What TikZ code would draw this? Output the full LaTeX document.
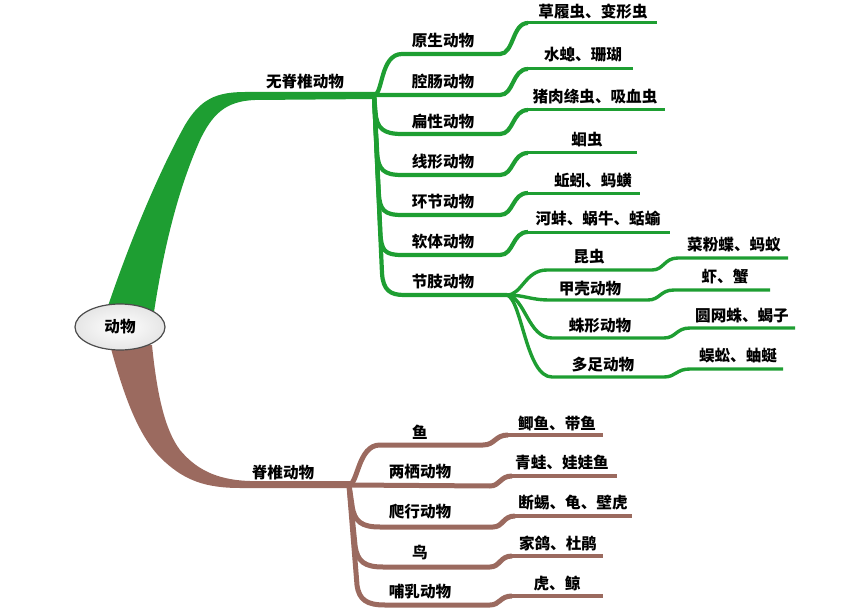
\documentclass[tikz,border=0pt]{standalone}
\usepackage{fontspec}
\setmainfont{Noto Sans CJK SC}
\usetikzlibrary{shapes.geometric}
\definecolor{tg}{HTML}{1E9E32}
\definecolor{tb}{HTML}{9B6A5F}
\tikzset{
  lbl/.style={font=\fontsize{15.6}{17}\selectfont\bfseries, inner sep=0pt, text=black},
  gcat/.style={draw=tg, line width=4.2pt},
  gleaf/.style={draw=tg, line width=3pt},
  gsub/.style={draw=tg, line width=3.4pt},
  bcat/.style={draw=tb, line width=5pt},
  bleaf/.style={draw=tb, line width=4pt}
}
\begin{document}
\begin{tikzpicture}[x=1pt,y=-1pt]
\useasboundingbox (0,0) rectangle (857,615);

% trunks
\fill[tg] (106,312) .. controls (130,240) and (160,170) .. (185,125) .. controls (200,100) and (215,92) .. (245,92) -- (376,92) -- (376,99) -- (255,100) .. controls (225,101) and (212,115) .. (200,140) .. controls (180,185) and (165,240) .. (154,312) -- cycle;
\fill[tb] (110,345) .. controls (125,400) and (140,440) .. (165,462) .. controls (185,480) and (205,488) .. (240,488) -- (351,488) -- (351,481) -- (250,481) .. controls (215,480) and (195,468) .. (180,450) .. controls (165,430) and (157,395) .. (152,345) -- cycle;

\node[ellipse, draw=black!70, line width=1.2pt, minimum width=90pt, minimum height=46pt, shading=radial, inner color=white, outer color=black!10, lbl] (root) at (120,327) {动物};

\node[lbl] (inv) at (305,82) {无脊椎动物};
\node[lbl] (ver) at (283,473) {脊椎动物};

\coordinate (P) at (374,95);
\coordinate (Q) at (507,295);
\coordinate (R) at (349,485);

% invertebrate categories
\draw[gcat] (P) .. controls (383,95) and (380,54) .. (402,54) -- (500,54) .. controls (514,54) and (512,23) .. (528,23);
\draw[gleaf] (526,23) -- (657,23);
\draw[gcat] (P) -- (500,95) .. controls (514,95) and (512,69) .. (528,69);
\draw[gleaf] (526,69) -- (633,69);
\foreach \y/\yl/\xe in {134/110/665, 175/153/637, 215/193/640, 255/232/670}{
  \pgfmathsetmacro{\off}{(\y-95)/25}
  \draw[gcat] (P) -- (374+\off,\y-22) .. controls (375+\off,\y-5) and (384,\y) .. (402,\y) -- (500,\y) .. controls (514,\y) and (512,\yl) .. (528,\yl);
  \draw[gleaf] (526,\yl) -- (\xe,\yl);
}
\draw[gcat] (P) -- (382,273) .. controls (383,290) and (390,295) .. (404,295) -- (Q);

% arthropod sub-branches
\draw[gsub] (Q) .. controls (522,295) and (525,270) .. (547,270) -- (652,270) .. controls (664,270) and (664,258) .. (678,258) -- (788,258);
\draw[gsub] (Q) .. controls (525,295) and (530,300) .. (550,300) -- (648,300) .. controls (660,300) and (660,290) .. (674,290) -- (770,290);
\draw[gsub] (Q) .. controls (525,297) and (528,338) .. (552,338) -- (664,338) .. controls (676,338) and (676,328) .. (690,328) -- (795,328);
\draw[gsub] (Q) .. controls (522,300) and (526,377) .. (552,377) -- (664,377) .. controls (676,377) and (676,369) .. (690,369) -- (783,369);

% vertebrate categories
\draw[bcat] (R) .. controls (358,484) and (358,445) .. (380,445) -- (483,445) .. controls (495,445) and (495,435) .. (508,435);
\draw[bleaf] (506,435) -- (603,435);
\draw[bcat] (R) -- (490,486) .. controls (500,486) and (500,476) .. (512,476);
\draw[bleaf] (510,476) -- (617,476);
\draw[bcat] (R) -- (352,505) .. controls (354,522) and (362,527) .. (380,527) -- (493,527) .. controls (503,527) and (503,516) .. (515,516);
\draw[bleaf] (513,516) -- (632,516);
\draw[bcat] (R) -- (355,545) .. controls (357,562) and (365,567) .. (383,567) -- (490,567) .. controls (500,567) and (500,556) .. (512,556);
\draw[bleaf] (510,556) -- (603,556);
\draw[bcat] (R) -- (357,585) .. controls (359,600) and (367,605) .. (385,605) -- (490,605) .. controls (500,605) and (500,596) .. (512,596);
\draw[bleaf] (510,596) -- (603,596);

% category labels
\node[lbl] (c1) at (443,41) {原生动物};
\node[lbl] (c2) at (443,82) {腔肠动物};
\node[lbl] (c3) at (443,122) {扁性动物};
\node[lbl] (c4) at (443,162) {线形动物};
\node[lbl] (c5) at (443,202) {环节动物};
\node[lbl] (c6) at (443,242) {软体动物};
\node[lbl] (c7) at (443,282) {节肢动物};
\node[lbl] (a1) at (589,257) {昆虫};
\node[lbl] (a2) at (590,289) {甲壳动物};
\node[lbl] (a3) at (600,326) {蛛形动物};
\node[lbl] (a4) at (603,365) {多足动物};

% leaf labels
\node[lbl] (l1) at (593,12) {草履虫、变形虫};
\node[lbl] (l2) at (583,55) {水螅、珊瑚};
\node[lbl] (l3) at (595,97) {猪肉绦虫、吸血虫};
\node[lbl] (l4) at (587,140) {蛔虫};
\node[lbl] (l5) at (593,181) {蚯蚓、蚂蟥};
\node[lbl] (l6) at (598,219) {河蚌、蜗牛、蛞蝓};
\node[lbl] (m1) at (734,245) {菜粉蝶、蚂蚁};
\node[lbl] (m2) at (725,277) {虾、蟹};
\node[lbl] (m3) at (742,316) {圆网蛛、蝎子};
\node[lbl] (m4) at (738,356) {蜈蚣、蚰蜒};

% vertebrates
\node[lbl] (v1) at (420,432) {鱼};
\node[lbl] (v2) at (420,472) {两栖动物};
\node[lbl] (v3) at (420,512) {爬行动物};
\node[lbl] (v4) at (420,553) {鸟};
\node[lbl] (v5) at (420,592) {哺乳动物};
\node[lbl] (w1) at (557,423) {鲫鱼、带鱼};
\node[lbl] (w2) at (562,463) {青蛙、娃娃鱼};
\node[lbl] (w3) at (573,503) {断蜴、龟、壁虎};
\node[lbl] (w4) at (558,543) {家鸽、杜鹃};
\node[lbl] (w5) at (557,583) {虎、鲸};
\end{tikzpicture}
\end{document}
